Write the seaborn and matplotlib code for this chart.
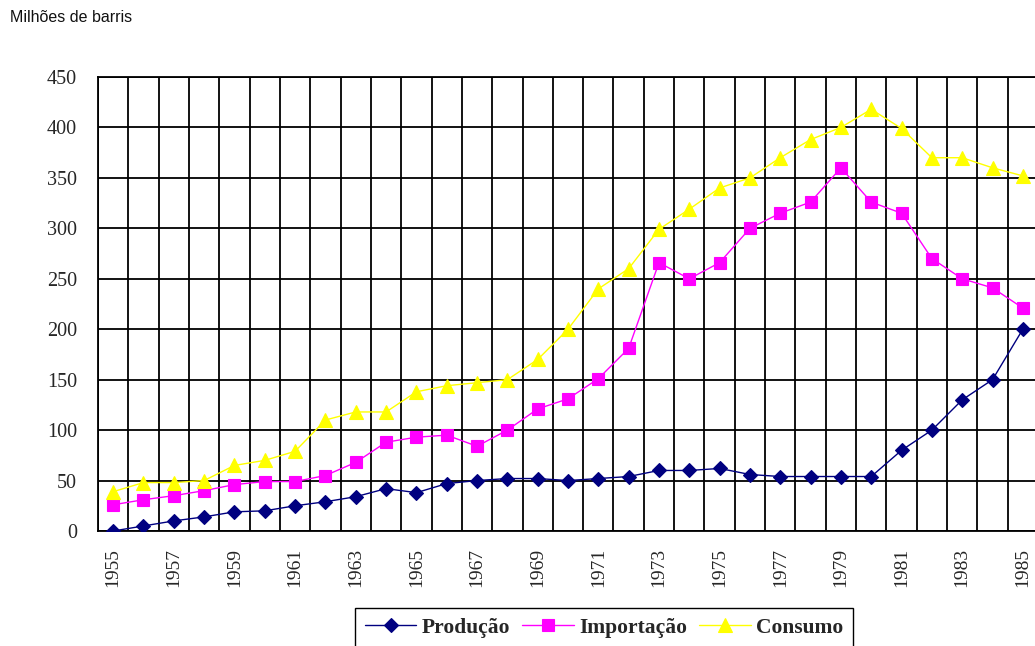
import matplotlib
matplotlib.use("Agg")
import matplotlib.pyplot as plt
from matplotlib.ticker import FixedLocator
import numpy as np
import pandas as pd
import seaborn as sns

# Petróleo no Brasil, 1955-1985 (milhões de barris)
anos = list(range(1955, 1986))
producao = [0, 5, 10, 14, 19, 20, 25, 29, 34, 42, 38, 47, 50, 52, 52, 50,
            52, 54, 60, 60, 62, 56, 54, 54, 54, 54, 80, 100, 130, 150, 200]
importacao = [26, 31, 35, 40, 46, 49, 49, 55, 68, 88, 93, 95, 84, 100, 121, 131,
              151, 181, 266, 250, 266, 300, 315, 326, 360, 326, 315, 270, 250, 241, 221]
consumo = [39, 48, 48, 50, 65, 70, 79, 110, 118, 118, 138, 144, 147, 150, 170, 200,
           240, 260, 299, 319, 340, 350, 370, 388, 400, 418, 399, 370, 370, 360, 352]

series = ["Produção", "Importação", "Consumo"]
valores = [producao, importacao, consumo]
cores = ["#000080", "#FF00FF", "#FFFF00"]
marcadores = ["D", "s", "^"]
tamanhos = [7.5, 8.5, 9.5]

rotulo_y = "Milhões de barris"
yticks = list(range(0, 451, 50))
xtick_anos = anos[::2]

sns.set_style("white")
plt.rcParams["font.family"] = ["Liberation Serif", "DejaVu Serif"]

W, H = 1035, 646
fig = plt.figure(figsize=(W / 100, H / 100), dpi=100)
left, right, bottom, top = 98, 1038, 531, 77
ax = fig.add_axes([left / W, 1 - bottom / H, (right - left) / W, (bottom - top) / H])

for nome, vals, cor, mk, ms in zip(series, valores, cores, marcadores, tamanhos):
    df = pd.DataFrame({"ano": anos, "valor": vals})
    sns.lineplot(data=df, x="ano", y="valor", ax=ax, color=cor, marker=mk,
                 markersize=ms, markeredgecolor=cor, markeredgewidth=0.8,
                 linewidth=1.0, label=nome, legend=False, zorder=3)

ax.set_xlim(anos[0] - 0.5, anos[-1] + 0.5)
ax.set_ylim(0, 450)
ax.set_xlabel("")
ax.set_ylabel("")

# Category boundaries carry the tick marks and vertical grid lines
fronteiras = np.arange(anos[0] - 0.5, anos[-1] + 1.0, 1.0)
ax.xaxis.set_major_locator(FixedLocator(xtick_anos))
ax.set_xticklabels([str(a) for a in xtick_anos], rotation=90, fontsize=14)
ax.xaxis.set_minor_locator(FixedLocator(fronteiras))
ax.tick_params(axis="x", which="major", length=0, pad=12)
ax.tick_params(axis="x", which="minor", length=6, width=1.3, color="black", direction="out")
ax.grid(False)
ax.grid(True, axis="x", which="minor", color="black", linewidth=1.3)

ax.set_yticks(yticks)
ax.set_yticklabels([str(v) for v in yticks], fontsize=14.5)
ax.tick_params(axis="y", which="major", length=8, width=1.3, color="black",
               direction="out", pad=7)
ax.grid(True, axis="y", which="major", color="black", linewidth=1.3)
ax.set_axisbelow(True)

for lado in ["left", "bottom", "top"]:
    ax.spines[lado].set_visible(True)
    ax.spines[lado].set_color("black")
    ax.spines[lado].set_linewidth(1.3)
ax.spines["right"].set_visible(False)

fig.text(10 / W, 1 - 18 / H, rotulo_y, fontsize=11.5, family=["Liberation Sans", "DejaVu Sans"],
         ha="left", va="center", color="#111111")

handles, labels = ax.get_legend_handles_labels()
leg = fig.legend(handles, labels, loc="upper center",
                 bbox_to_anchor=(604 / W, 1 - 608 / H), ncol=3, frameon=True,
                 fancybox=False, shadow=False, borderaxespad=0,
                 prop={"family": ["Liberation Serif", "DejaVu Serif"], "weight": "bold", "size": 15.5},
                 handlelength=2.4, handletextpad=0.25, columnspacing=0.55,
                 borderpad=0.45, numpoints=1)
leg.get_frame().set_edgecolor("black")
leg.get_frame().set_linewidth(1.0)
leg.get_frame().set_alpha(1)

fig.savefig("out.png", dpi=100)
